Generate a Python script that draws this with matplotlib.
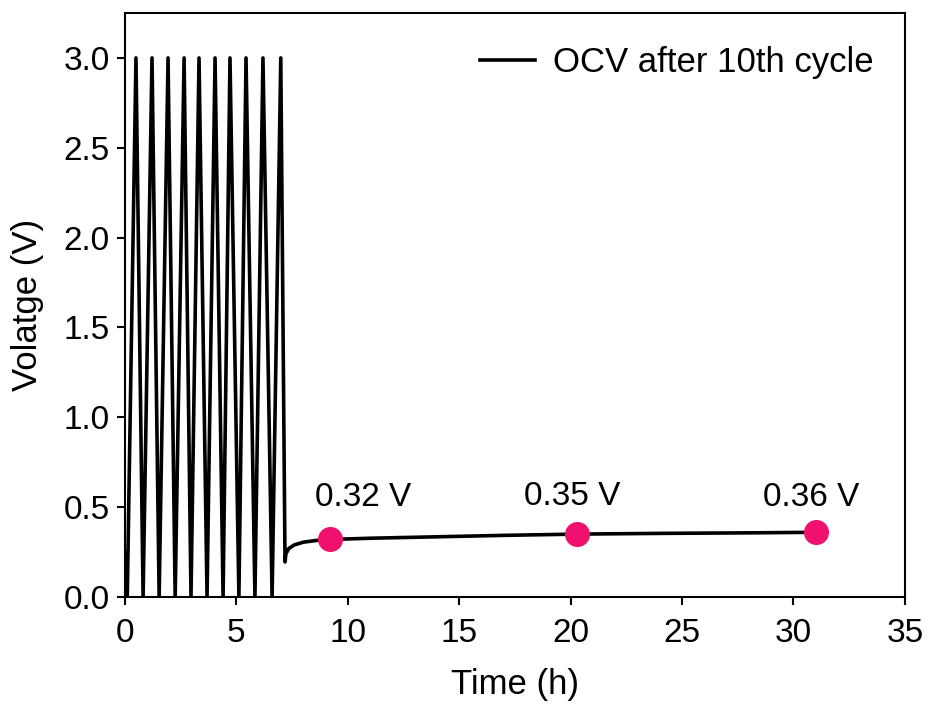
import matplotlib
matplotlib.use("Agg")
import matplotlib.pyplot as plt
import numpy as np

plt.rcParams['font.family'] = ['Liberation Sans', 'DejaVu Sans']

# Galvanostatic cycling: turning points of the 10 cycles (h)
cycle_min_t = [0.10, 0.81, 1.53, 2.25, 2.96, 3.68, 4.40, 5.11, 5.83, 6.60]
cycle_peak_t = [0.49, 1.21, 1.93, 2.65, 3.32, 4.04, 4.71, 5.43, 6.19, 6.99]
v_min = 0.0
v_peak = 3.0

# Open-circuit rest after the 10th cycle
rest_t = [7.18, 7.22, 7.35, 7.6, 8.0, 8.6, 9.2, 11.0, 14.0, 17.0, 20.3, 24.0, 28.0, 31.0]
rest_v = [0.195, 0.24, 0.27, 0.29, 0.305, 0.315, 0.32, 0.327, 0.335, 0.343, 0.35, 0.354, 0.357, 0.36]

# Labelled OCV readings
ocv_t = [9.2, 20.3, 31.0]
ocv_v = [0.32, 0.35, 0.36]
ocv_labels = ['0.32 V', '0.35 V', '0.36 V']

t = [0.0]
v = [0.25]
for tm, tp in zip(cycle_min_t, cycle_peak_t):
    t += [tm, tp]
    v += [v_min, v_peak]
t += rest_t
v += rest_v

fig = plt.figure(figsize=(9.29, 7.07), dpi=100)
ax = fig.add_axes([0.1346, 0.1556, 0.8394, 0.826])

ax.plot(t, v, color='black', lw=2.6, label='OCV after 10th cycle', zorder=2)
ax.plot(ocv_t, ocv_v, 'o', color='#F0106E', ms=17, zorder=3)

offsets = [(24, 30), (-4, 27), (-3, 25)]
for x, y, s, off in zip(ocv_t, ocv_v, ocv_labels, offsets):
    ax.annotate(s, (x, y), xytext=off, textcoords='offset points',
                ha='center', va='center', fontsize=24)

ax.set_xlim(0, 35)
ax.set_ylim(0, 3.25)
ax.set_xticks(np.arange(0, 36, 5))
ax.set_yticks(np.arange(0, 3.01, 0.5))
ax.yaxis.set_major_formatter(matplotlib.ticker.FormatStrFormatter('%.1f'))
ax.tick_params(direction='out', length=6, width=1.5, labelsize=24,
               top=False, right=False)
ax.tick_params(axis='x', pad=9)
ax.tick_params(axis='y', pad=5)
for sp in ax.spines.values():
    sp.set_linewidth(1.5)

ax.set_xlabel('Time (h)', fontsize=25, labelpad=14)
ax.set_ylabel('Volatge (V)', fontsize=25, labelpad=14)

ax.legend(loc='upper right', bbox_to_anchor=(0.995, 0.991), frameon=False,
          fontsize=25, handlelength=1.6, handletextpad=0.5, borderaxespad=0.4)

fig.savefig('out.png', dpi=100)
